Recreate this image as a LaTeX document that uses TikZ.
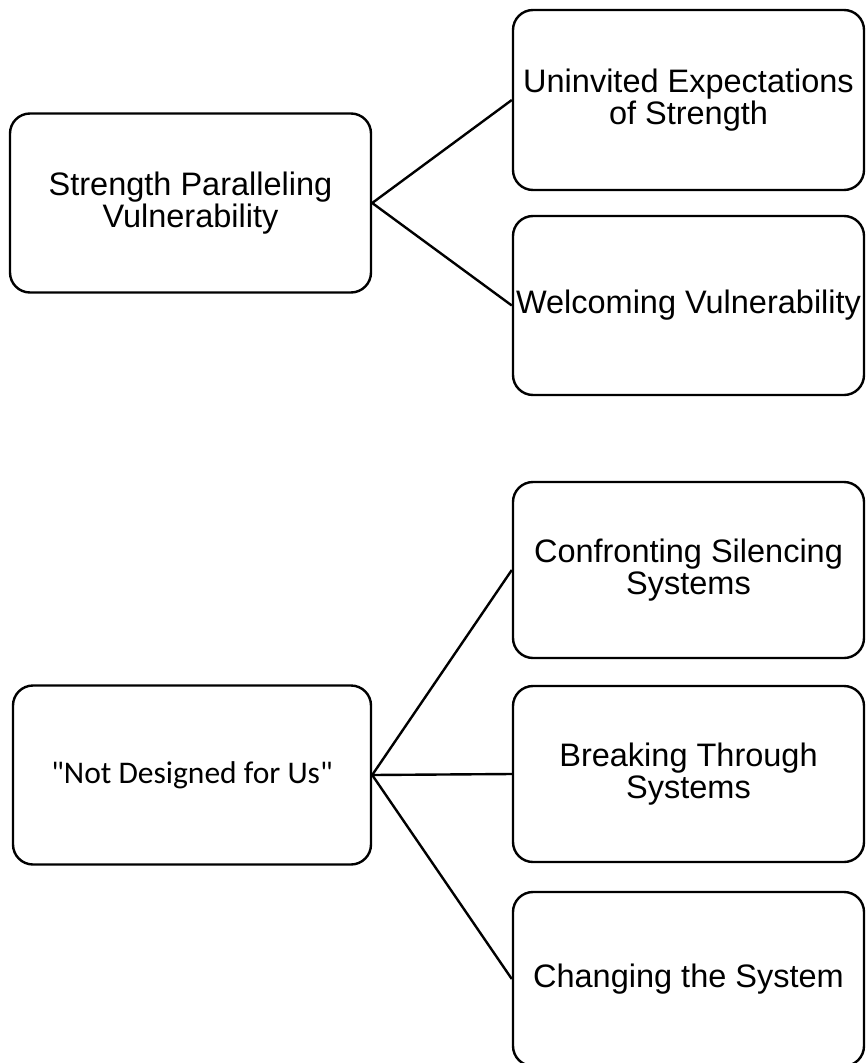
\documentclass[tikz,border=0pt]{standalone}
\usepackage{fontspec}
\setmainfont{Liberation Sans}
\newfontfamily\calibrilike{Carlito}
\begin{document}
\begin{tikzpicture}[x=1pt,y=-1pt,
  box/.style={draw, line width=2.4pt, rounded corners=20pt, inner sep=0pt,
    align=center, font=\fontsize{32.5}{31.5}\selectfont},
  leftbox/.style={box, minimum width=359pt, minimum height=179pt},
  rightbox/.style={box, minimum width=351pt, minimum height=178pt},
  link/.style={line width=2.4pt}]
\useasboundingbox (0,0) rectangle (865,1063);

% first group
\node[leftbox, minimum width=361pt] (spv) at (190.5,203) {Strength Paralleling\\Vulnerability};
\node[rightbox, minimum height=180pt] (uex) at (688.5,100) {Uninvited Expectations\\of Strength};
\node[rightbox, minimum height=179pt] (wvu) at (688.5,305.5) {Welcoming Vulnerability};
\draw[link] (spv.east) -- (uex.west);
\draw[link] (spv.east) -- (wvu.west);

% second group
\node[leftbox, minimum width=358pt, font=\calibrilike\fontsize{31.5}{36}\selectfont] (ndu) at (192,775) {"Not Designed for Us"};
\node[rightbox, minimum height=176pt] (css) at (688.5,570) {Confronting Silencing\\Systems};
\node[rightbox, minimum height=176pt] (bts) at (688.5,774) {Breaking Through\\Systems};
\node[rightbox, minimum height=174pt] (cts) at (688.5,979) {Changing the System};
\draw[link] (ndu.east) -- (css.west);
\draw[link] (ndu.east) -- (bts.west);
\draw[link] (ndu.east) -- (cts.west);
\end{tikzpicture}
\end{document}
